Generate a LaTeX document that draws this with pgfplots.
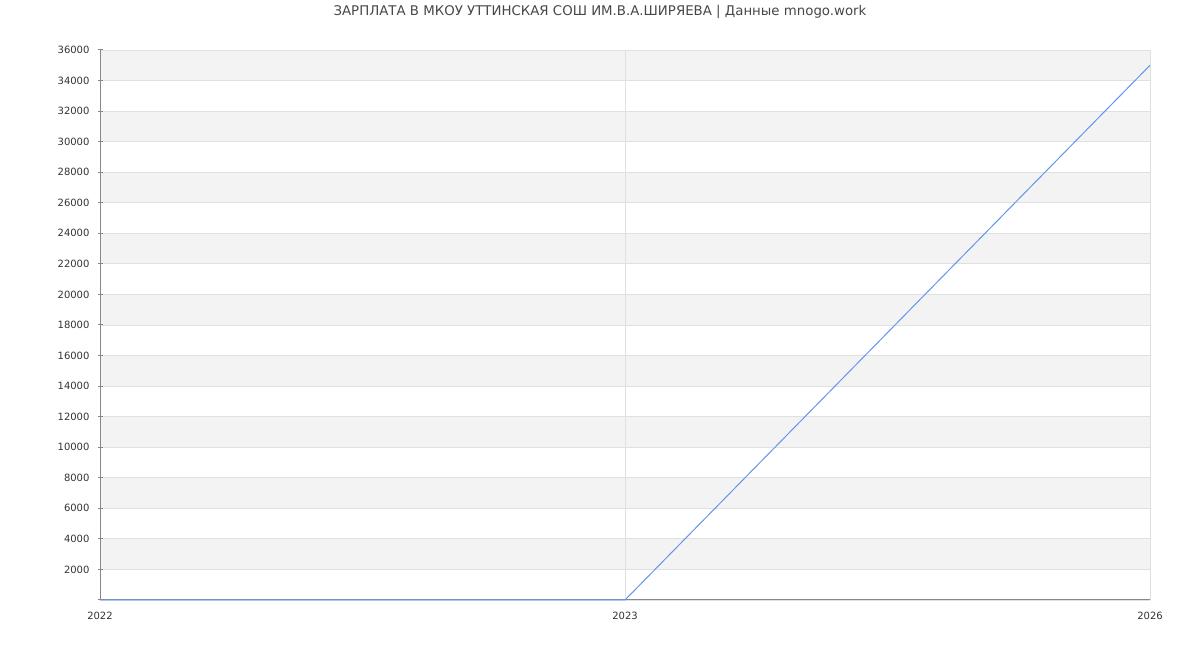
\documentclass[border=0pt]{standalone}
\usepackage{pgfplots}
\pgfplotsset{compat=1.18}
\usepackage{fontspec}
\setmainfont{DejaVu Sans}
\definecolor{bandgray}{HTML}{F3F3F3}
\definecolor{gridgray}{HTML}{E0E0E0}
\definecolor{axisgray}{HTML}{888888}
\definecolor{linecol}{HTML}{6495ED}
\definecolor{textcol}{HTML}{333333}
\pgfplotsset{band/.style={draw=none, fill=bandgray, on layer=axis background, forget plot}}
\begin{document}
\begin{tikzpicture}
\path (0pt,0pt) rectangle (900pt,487.5pt);
\node[font=\fontsize{10pt}{12pt}\selectfont, text=textcol!90] at (450pt,478.5pt) {ЗАРПЛАТА В МКОУ УТТИНСКАЯ СОШ ИМ.В.А.ШИРЯЕВА | Данные mnogo.work};
\begin{axis}[
  at={(75pt,37.5pt)}, anchor=south west,
  scale only axis, width=787.5pt, height=412.5pt,
  set layers,
  xmin=0, xmax=2, ymin=0, ymax=36000,
  xtick={0,1,2}, xticklabels={2022,2023,2026},
  ytick={0,2000,...,36000},
  scaled y ticks=false,
  yticklabels={,2000,4000,6000,8000,10000,12000,14000,16000,18000,20000,22000,24000,26000,28000,30000,32000,34000,36000},
  tick label style={font=\fontsize{7.5pt}{8pt}\selectfont, text=textcol},
  xtick style={draw=none},
  ytick style={draw=axisgray, line width=0.75pt},
  tick align=outside, major tick length=3.75pt,
  xticklabel style={yshift=-3.5pt},
  yticklabel style={xshift=-2.5pt},
  axis lines=left, axis line style={-, draw=axisgray, line width=0.75pt},
  grid=major, major grid style={draw=gridgray, line width=0.6pt},
  clip=false,
]
\addplot[band] coordinates {(0,2000)(2,2000)(2,4000)(0,4000)} -- cycle;
\addplot[band] coordinates {(0,6000)(2,6000)(2,8000)(0,8000)} -- cycle;
\addplot[band] coordinates {(0,10000)(2,10000)(2,12000)(0,12000)} -- cycle;
\addplot[band] coordinates {(0,14000)(2,14000)(2,16000)(0,16000)} -- cycle;
\addplot[band] coordinates {(0,18000)(2,18000)(2,20000)(0,20000)} -- cycle;
\addplot[band] coordinates {(0,22000)(2,22000)(2,24000)(0,24000)} -- cycle;
\addplot[band] coordinates {(0,26000)(2,26000)(2,28000)(0,28000)} -- cycle;
\addplot[band] coordinates {(0,30000)(2,30000)(2,32000)(0,32000)} -- cycle;
\addplot[band] coordinates {(0,34000)(2,34000)(2,36000)(0,36000)} -- cycle;
\addplot[linecol, line width=0.75pt] coordinates {(0,0) (1,0) (2,35000)};
\end{axis}
\end{tikzpicture}
\end{document}
